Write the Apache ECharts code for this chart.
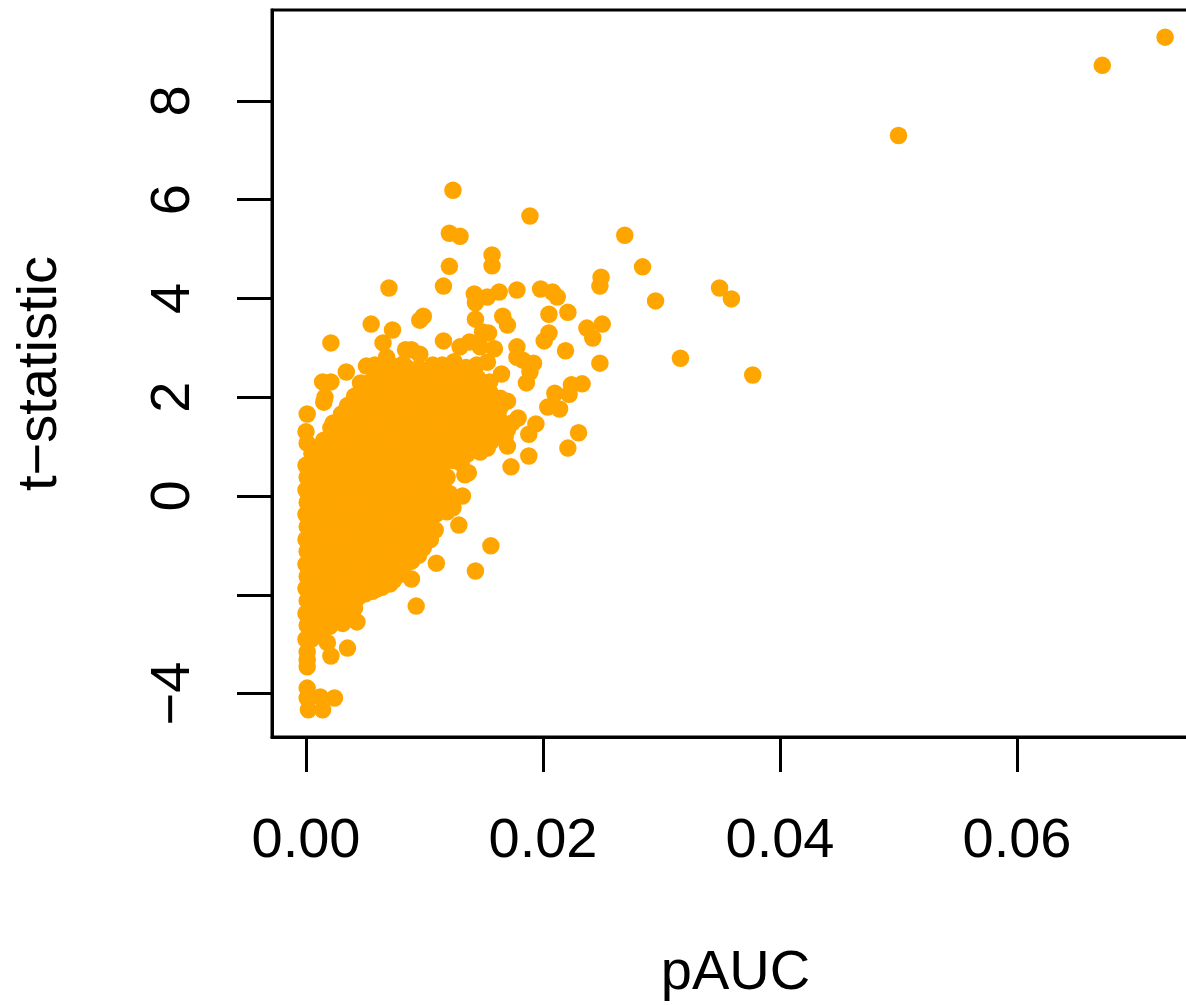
<!DOCTYPE html>
<html>
<head>
<meta charset="utf-8">
<style>html,body{margin:0;padding:0;background:#fff}#c{width:1186px;height:1005px}</style>
<script src="https://cdn.jsdelivr.net/npm/echarts@6/dist/echarts.min.js"></script>
</head>
<body>
<div id="c"></div>
<script>
const xTicks = [0, 0.02, 0.04, 0.06];
const yTicks = [-4, -2, 0, 2, 4, 6, 8];
const yLabels = [-4, 0, 2, 4, 6, 8];
const xName = "pAUC";
const yName = "t\u2212statistic";

// isolated points: [pAUC, t-statistic]
const outerPoints = [
[0.0725,9.29],[0.0672,8.72],[0.0500,7.30],[0.0377,2.45],[0.0359,3.99],[0.0349,4.21],[0.0316,2.79],[0.0295,3.95],
[0.0284,4.64],[0.0269,5.28],[0.0249,4.43],[0.0248,4.25],[0.0250,3.48],[0.0237,3.40],[0.0242,3.20],[0.0248,2.69],
[0.0233,2.27],[0.0224,2.25],[0.0222,2.06],[0.0210,2.08],[0.0204,1.80],[0.0214,1.76],[0.0230,1.28],[0.0221,0.97],
[0.0189,5.67],[0.0198,4.19],[0.0208,4.13],[0.0212,4.03],[0.0205,3.68],[0.0221,3.72],[0.0205,3.30],[0.0201,3.14],
[0.0219,2.94],[0.0178,4.17],[0.0163,4.13],[0.0157,4.88],[0.0157,4.66],[0.0166,3.64],[0.0170,3.46],[0.0178,3.02],
[0.0178,2.81],[0.0183,2.75],[0.0192,2.69],[0.0189,2.51],[0.0186,2.29],[0.0165,2.47],[0.0155,2.31],[0.0179,1.58],
[0.0194,1.46],[0.0188,1.25],[0.0188,0.81],[0.0173,0.59],[0.0170,1.01],[0.0153,0.97],[0.0147,0.89],[0.0164,1.98],
[0.0170,1.92],[0.0166,1.48],[0.0164,1.80],[0.0170,1.34],[0.0168,1.19],[0.0174,1.48]
];
const upperPoints = [
[0.0124,6.19],[0.0121,5.32],[0.0130,5.26],[0.0121,4.65],[0.0116,4.25],[0.0070,4.21],[0.0142,4.09],[0.0153,4.03],
[0.0143,3.91],[0.0143,3.58],[0.0099,3.64],[0.0096,3.56],[0.0055,3.48],[0.0073,3.36],[0.0021,3.10],[0.0065,3.10],
[0.0116,3.14],[0.0149,3.32],[0.0154,3.30],[0.0159,2.98],[0.0138,3.12],[0.0130,3.02],[0.0147,3.02],[0.0084,2.96],
[0.0089,2.96],[0.0096,2.87],[0.0051,2.63],[0.0058,2.65],[0.0068,2.81],[0.0082,2.67],[0.0107,2.65],[0.0144,2.65],
[0.0153,2.71],[0.0034,2.51],[0.0014,2.31],[0.0021,2.31],[0.0016,2.00],[0.0015,1.90],[0.0046,2.29],[0.0090,2.41],
[0.0069,2.49],[0.0023,1.48],[0.0041,1.84],[0.0001,1.66],[0.0000,1.30],[0.0001,1.07]
];
const lowerPoints = [
[0.0156,-1.01],[0.0143,-1.52],[0.0129,-0.59],[0.0110,-1.36],[0.0093,-2.23],[0.0089,-1.68],[0.0137,0.47],[0.0134,0.43],
[0.0132,0.00],[0.0124,-0.24],[0.0119,-0.32],[0.0109,-0.69],[0.0106,-0.69],[0.0099,-1.05],[0.0085,-1.36],
[0.0001,-3.16],[0.0001,-3.46],[0.0001,-3.32],[0.0001,-3.89],[0.0001,-4.09],[0.0002,-4.33],[0.0012,-4.07],[0.0024,-4.09],
[0.0014,-4.33],[0.0035,-3.08],[0.0021,-3.24],[0.0018,-2.97],[0.0012,-2.81],[0.0043,-2.55],[0.0041,-2.27]
];
// the solid mass, estimated column by column
const densePoints = [
[0.0000,0.62],[0.0001,0.38],[0.0000,0.12],[0.0001,-0.13],[0.0000,-0.37],[0.0001,-0.62],[0.0000,-0.88],[0.0001,-1.12],[0.0000,-1.38],[0.0001,-1.63],[0.0000,-1.87],[0.0001,-2.12],[0.0000,-2.38],[0.0001,-2.62],[0.0000,-2.90],
[0.0010,0.98],[0.0011,0.74],[0.0009,0.51],[0.0010,0.24],[0.0011,0.02],[0.0009,-0.24],[0.0010,-0.52],[0.0011,-0.74],[0.0009,-1.01],[0.0010,-1.26],[0.0011,-1.49],[0.0009,-1.76],[0.0010,-2.02],[0.0011,-2.26],[0.0009,-2.52],[0.0010,-2.78],
[0.0021,1.38],[0.0020,1.14],[0.0019,0.88],[0.0021,0.63],[0.0020,0.39],[0.0019,0.12],[0.0021,-0.12],[0.0020,-0.38],[0.0019,-0.63],[0.0021,-0.88],[0.0020,-1.13],[0.0019,-1.37],[0.0021,-1.62],[0.0020,-1.88],[0.0019,-2.13],[0.0021,-2.38],[0.0020,-2.64],
[0.0030,1.66],[0.0031,1.41],[0.0029,1.17],[0.0030,0.91],[0.0031,0.66],[0.0029,0.42],[0.0030,0.17],[0.0031,-0.08],[0.0029,-0.34],[0.0030,-0.59],[0.0031,-0.83],[0.0029,-1.09],[0.0030,-1.34],[0.0031,-1.58],[0.0029,-1.84],[0.0030,-2.09],[0.0031,-2.58],[0.0030,-2.33],
[0.0041,2.02],[0.0040,1.62],[0.0039,1.37],[0.0041,1.12],[0.0040,0.87],[0.0039,0.62],[0.0041,0.37],[0.0040,0.12],[0.0039,-0.13],[0.0041,-0.38],[0.0040,-0.63],[0.0039,-0.88],[0.0041,-1.13],[0.0040,-1.38],[0.0039,-1.63],[0.0041,-1.88],[0.0040,-2.08],
[0.0050,2.21],[0.0051,1.96],[0.0049,1.72],[0.0050,1.46],[0.0051,1.21],[0.0049,0.97],[0.0050,0.72],[0.0051,0.47],[0.0049,0.22],[0.0050,-0.03],[0.0051,-0.28],[0.0049,-0.53],[0.0050,-0.78],[0.0051,-1.03],[0.0049,-1.28],[0.0050,-1.53],[0.0051,-1.78],[0.0050,-1.98],
[0.0060,2.42],[0.0061,2.18],[0.0059,1.92],[0.0060,1.68],[0.0061,1.42],[0.0059,1.17],[0.0060,0.92],[0.0061,0.67],[0.0059,0.42],[0.0060,0.17],[0.0061,-0.08],[0.0059,-0.33],[0.0060,-0.58],[0.0061,-0.83],[0.0059,-1.08],[0.0060,-1.33],[0.0061,-1.58],[0.0060,-1.88],
[0.0070,2.27],[0.0071,2.02],[0.0069,1.77],[0.0070,1.52],[0.0071,1.27],[0.0069,1.02],[0.0070,0.77],[0.0071,0.52],[0.0069,0.27],[0.0070,0.02],[0.0071,-0.23],[0.0069,-0.48],[0.0070,-0.73],[0.0071,-0.98],[0.0069,-1.23],[0.0070,-1.48],[0.0071,-1.78],
[0.0081,2.48],[0.0080,2.22],[0.0079,1.97],[0.0081,1.72],[0.0080,1.47],[0.0079,1.22],[0.0081,0.97],[0.0080,0.72],[0.0079,0.47],[0.0081,0.22],[0.0080,-0.03],[0.0079,-0.28],[0.0081,-0.53],[0.0080,-0.78],[0.0079,-1.03],[0.0080,-1.58],[0.0081,-1.28],
[0.0090,2.18],[0.0091,1.93],[0.0089,1.68],[0.0090,1.43],[0.0091,1.18],[0.0089,0.93],[0.0090,0.68],[0.0091,0.43],[0.0089,0.18],[0.0090,-0.07],[0.0091,-0.32],[0.0089,-0.57],[0.0090,-0.82],[0.0091,-1.07],[0.0089,-1.32],
[0.0100,2.46],[0.0101,2.21],[0.0099,1.96],[0.0100,1.71],[0.0101,1.46],[0.0099,1.21],[0.0100,0.96],[0.0101,0.71],[0.0099,0.46],[0.0100,0.21],[0.0101,-0.04],[0.0099,-0.29],[0.0100,-0.54],[0.0101,-0.79],
[0.0110,2.44],[0.0111,2.19],[0.0109,1.94],[0.0110,1.69],[0.0111,1.44],[0.0109,1.19],[0.0110,0.94],[0.0109,0.69],[0.0111,0.44],[0.0110,0.19],[0.0109,-0.06],[0.0110,-0.36],
[0.0121,2.48],[0.0120,2.23],[0.0119,1.98],[0.0121,1.73],[0.0120,1.48],[0.0119,1.23],[0.0121,0.98],[0.0120,0.72],[0.0119,0.38],[0.0121,0.05],
[0.0130,2.42],[0.0131,2.17],[0.0129,1.92],[0.0130,1.67],[0.0131,1.42],[0.0129,1.17],[0.0130,0.92],[0.0131,0.66],
[0.0140,2.37],[0.0141,2.12],[0.0139,1.87],[0.0140,1.62],[0.0141,1.37],[0.0139,1.12],[0.0140,0.93],
[0.0150,2.14],[0.0151,1.88],[0.0149,1.63],[0.0150,1.38],[0.0157,1.62],[0.0159,1.95]
];
// points between those columns, so that the mass reads as solid
const fillPoints = [
[0.0005,0.86],[0.0005,0.60],[0.0004,0.36],[0.0006,0.11],[0.0005,-0.14],[0.0004,-0.39],[0.0006,-0.64],[0.0005,-0.89],[0.0004,-1.14],[0.0006,-1.39],[0.0005,-1.64],[0.0004,-1.89],[0.0006,-2.14],[0.0005,-2.39],[0.0004,-2.64],[0.0005,-2.89],
[0.0015,1.13],[0.0016,0.88],[0.0014,0.63],[0.0015,0.38],[0.0016,0.13],[0.0014,-0.12],[0.0015,-0.37],[0.0016,-0.62],[0.0014,-0.87],[0.0015,-1.12],[0.0016,-1.37],[0.0014,-1.62],[0.0015,-1.87],[0.0016,-2.12],[0.0014,-2.37],[0.0015,-2.62],
[0.0025,1.05],[0.0026,0.80],[0.0024,0.55],[0.0025,0.30],[0.0026,0.05],[0.0024,-0.20],[0.0025,-0.45],[0.0026,-0.70],[0.0024,-0.95],[0.0025,-1.20],[0.0026,-1.45],[0.0024,-1.70],[0.0025,-1.95],[0.0026,-2.20],[0.0024,-2.48],
[0.0035,1.83],[0.0036,1.58],[0.0034,1.33],[0.0035,1.08],[0.0036,0.83],[0.0034,0.58],[0.0035,0.33],[0.0036,0.08],[0.0034,-0.17],[0.0035,-0.42],[0.0036,-0.67],[0.0034,-0.92],[0.0035,-1.17],[0.0036,-1.42],[0.0034,-1.67],[0.0035,-1.92],[0.0036,-2.17],[0.0034,-2.42],
[0.0045,2.08],[0.0046,1.83],[0.0044,1.58],[0.0045,1.33],[0.0046,1.08],[0.0044,0.83],[0.0045,0.58],[0.0046,0.33],[0.0044,0.08],[0.0045,-0.17],[0.0046,-0.42],[0.0044,-0.67],[0.0045,-0.92],[0.0046,-1.17],[0.0044,-1.42],[0.0045,-1.67],[0.0046,-1.92],[0.0044,-2.05],
[0.0055,2.32],[0.0056,2.07],[0.0054,1.82],[0.0055,1.32],[0.0056,1.07],[0.0054,0.82],[0.0055,0.57],[0.0056,0.32],[0.0054,0.07],[0.0055,-0.18],[0.0056,-0.43],[0.0054,-0.68],[0.0055,-0.93],[0.0056,-1.18],[0.0054,-1.43],[0.0055,-1.68],[0.0056,-1.93],
[0.0065,2.55],[0.0066,2.30],[0.0064,2.05],[0.0065,1.80],[0.0066,1.55],[0.0064,1.30],[0.0065,1.05],[0.0066,0.80],[0.0064,0.55],[0.0065,0.30],[0.0066,0.05],[0.0064,-0.20],[0.0065,-0.45],[0.0066,-0.70],[0.0064,-0.95],[0.0065,-1.20],[0.0066,-1.45],[0.0064,-1.85],
[0.0075,2.62],[0.0076,2.37],[0.0074,2.12],[0.0075,1.87],[0.0076,1.62],[0.0074,1.37],[0.0075,1.12],[0.0076,0.87],[0.0074,0.62],[0.0075,0.37],[0.0076,0.12],[0.0074,-0.13],[0.0075,-0.38],[0.0076,-0.63],[0.0074,-0.88],[0.0075,-1.13],[0.0076,-1.38],[0.0074,-1.70],
[0.0085,2.60],[0.0086,2.35],[0.0084,2.10],[0.0085,1.85],[0.0086,1.60],[0.0084,1.35],[0.0085,1.10],[0.0086,0.85],[0.0084,0.60],[0.0085,0.35],[0.0086,0.10],[0.0084,-0.15],[0.0085,-0.40],[0.0086,-0.65],[0.0084,-0.90],[0.0085,-1.15],
[0.0095,2.58],[0.0096,2.33],[0.0094,2.08],[0.0095,1.83],[0.0096,1.58],[0.0094,1.33],[0.0095,1.08],[0.0096,0.83],[0.0094,0.58],[0.0095,0.33],[0.0096,0.08],[0.0094,-0.17],[0.0095,-0.42],[0.0096,-0.67],[0.0094,-0.92],[0.0095,-1.20],
[0.0105,2.40],[0.0106,2.15],[0.0104,1.90],[0.0105,1.65],[0.0106,1.40],[0.0104,1.15],[0.0105,0.90],[0.0106,0.65],[0.0104,0.40],[0.0105,0.15],[0.0106,-0.10],[0.0104,-0.35],[0.0105,-0.88],
[0.0115,2.65],[0.0116,2.40],[0.0114,2.15],[0.0115,1.90],[0.0116,1.65],[0.0114,1.40],[0.0115,1.15],[0.0116,0.90],[0.0114,0.65],[0.0115,0.40],[0.0116,0.15],[0.0114,-0.10],
[0.0125,2.72],[0.0126,2.47],[0.0124,2.22],[0.0125,1.97],[0.0126,1.72],[0.0124,1.47],[0.0125,1.22],[0.0126,0.97],[0.0124,0.72],
[0.0135,2.60],[0.0136,2.35],[0.0134,2.10],[0.0135,1.85],[0.0136,1.60],[0.0134,1.35],[0.0135,1.10],[0.0136,0.85],
[0.0145,2.38],[0.0146,2.12],[0.0144,1.87],[0.0145,1.62],[0.0146,1.37],[0.0144,1.12],
[0.0155,2.10],[0.0156,1.85],[0.0154,1.60],[0.0155,1.35],[0.0156,1.10],[0.0162,1.62],[0.0161,1.35]
];

const allPoints = outerPoints.concat(upperPoints, lowerPoints, densePoints, fillPoints);
const font = '"Liberation Sans", Arial, Helvetica, sans-serif';
const axisLine = { show: true, onZero: false, lineStyle: { color: '#000', width: 3 } };
const tick = (vals) => ({ show: true, length: 35, customValues: vals, lineStyle: { color: '#000', width: 3 } });

const chart = echarts.init(document.getElementById('c'), null, { renderer: 'canvas' });
chart.setOption({
  animation: false,
  backgroundColor: '#fff',
  grid: { left: 272, top: 10, width: 927, height: 727, outerBoundsMode: 'none', containLabel: false, show: true, borderColor: '#000', borderWidth: 3, backgroundColor: 'transparent' },
  xAxis: {
    type: 'value', min: -0.00287, max: 0.07536, splitLine: { show: false },
    axisLine, axisTick: tick(xTicks),
    axisLabel: { customValues: xTicks, margin: 77, color: '#000', fontFamily: font, fontSize: 56, formatter: v => v.toFixed(2) },
    name: xName, nameLocation: 'middle', nameGap: 209,
    nameMoveOverlap: false,
    nameTextStyle: { color: '#000', fontFamily: font, fontSize: 56, align: 'center' }
  },
  yAxis: {
    type: 'value', min: -4.88, max: 9.84, splitLine: { show: false },
    axisLine, axisTick: tick(yTicks),
    axisLabel: { customValues: yLabels, rotate: 90, margin: 70, color: '#000', fontFamily: font, fontSize: 56, formatter: v => String(v).replace('-', '\u2212') },
    name: yName, nameLocation: 'middle', nameGap: 203, nameRotate: 90,
    nameMoveOverlap: false,
    nameTextStyle: { color: '#000', fontFamily: font, fontSize: 56 }
  },
  series: [{
    type: 'scatter', data: allPoints, symbol: 'circle', symbolSize: 17.5, clip: false,
    itemStyle: { color: '#FFA500', opacity: 1 }, silent: true
  }]
});
</script>
</body>
</html>
